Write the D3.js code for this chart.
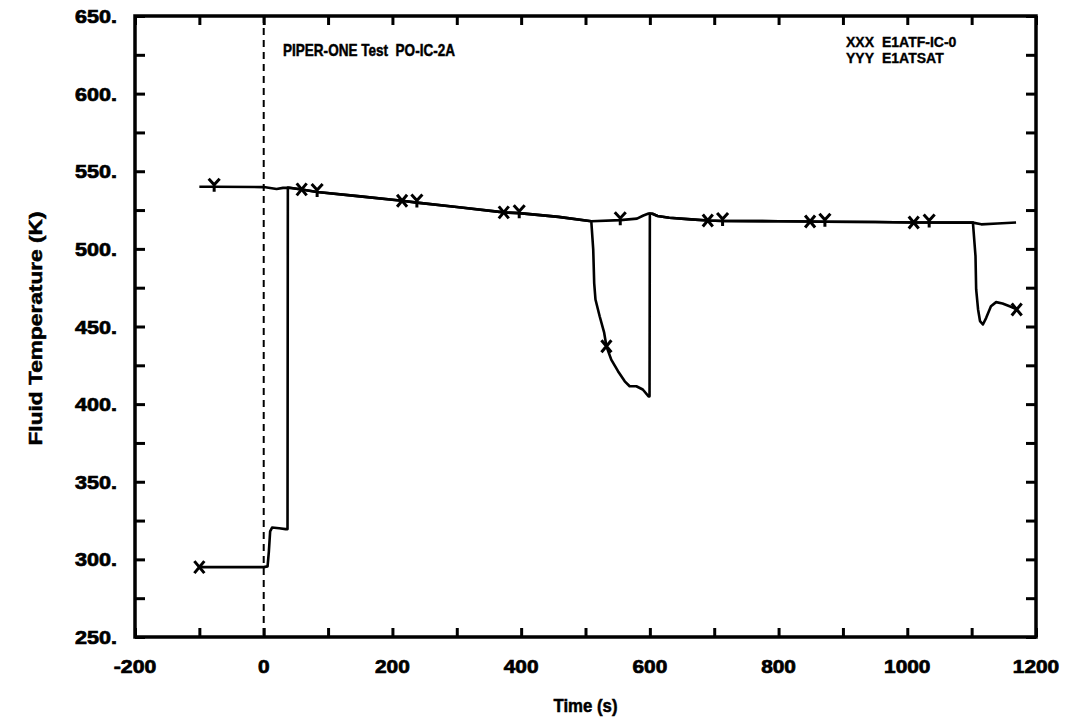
<!DOCTYPE html>
<html>
<head>
<meta charset="utf-8">
<script src="https://cdn.jsdelivr.net/npm/d3@7"></script>
<style>
  html, body { margin: 0; padding: 0; background: #fff; }
  svg { display: block; }
  text { font-family: "Liberation Sans", Arial, sans-serif; font-weight: bold; fill: #000; white-space: pre; }
</style>
</head>
<body>
<svg id="chart" width="1077" height="723"></svg>
<script>
// ---------------- data ----------------
const title = "PIPER-ONE Test  PO-IC-2A";
const xLabel = "Time (s)";
const yLabel = "Fluid Temperature (K)";
const seriesNames = ["E1ATF-IC-0", "E1ATSAT"];
const seriesSymbols = ["XXX", "YYY"];

const xTicks = [-200, 0, 200, 400, 600, 800, 1000, 1200];
const xTickLabels = ["-200", "0", "200", "400", "600", "800", "1000", "1200"];
const yTicks = [250, 300, 350, 400, 450, 500, 550, 600, 650];
const yTickLabels = ["250.", "300.", "350.", "400.", "450.", "500.", "550.", "600.", "650."];

// E1ATSAT (saturation temperature)
const satTime = [-100, -77, 0, 10, 20, 30, 40, 59, 83, 150, 215, 238, 300, 373, 397, 458, 509, 554, 580, 590, 598, 604, 612, 630, 664, 690, 713, 800, 849, 872, 950, 1010, 1034, 1102, 1115, 1140, 1169];
const satTemp = [540, 540, 539.8, 539.2, 538.6, 539.3, 539.4, 538.3, 536.6, 533.8, 531, 529.8, 527, 523.5, 523, 520.6, 517.8, 518.5, 519.5, 521.5, 522.8, 522.6, 521.2, 520, 519, 518.3, 518, 517.8, 517.6, 517.5, 517.3, 517, 517, 516.9, 515.8, 516.3, 517];

// E1ATF-IC-0 (fluid temperature)
const fluidTime = [-100, 0, 6, 8, 10, 13, 24, 34, 37, 37.5, 40, 59, 83, 150, 215, 238, 300, 373, 397, 458, 509, 512, 513.5, 515.5, 522, 529, 532.5, 540, 550.5, 561, 568.6, 579, 589, 598, 599.5, 600, 604, 612, 630, 664, 690, 713, 800, 849, 872, 950, 1010, 1034, 1102, 1106, 1107, 1110, 1113, 1117.5, 1122.6, 1130, 1138, 1148, 1161, 1170];
const fluidTemp = [295, 295, 295.5, 305, 318, 320.5, 320, 319.5, 319.5, 539.5, 539.4, 538.3, 536.6, 533.8, 531, 529.8, 527, 523.5, 523, 520.6, 517.8, 499.7, 478, 467.4, 456.6, 446, 437.3, 428.7, 421.2, 414.7, 411.5, 411.5, 409.4, 405, 405, 522.8, 522.6, 521.2, 520, 519, 518.3, 518, 517.8, 517.6, 517.5, 517.3, 517, 517, 516.9, 495.3, 474, 461, 453.5, 451.3, 455.6, 463, 465.7, 464.8, 462.7, 461];

// marker positions (symbols along the curves)
const fluidMarkTime = [-100, 59, 215, 373, 532.5, 690, 849, 1010, 1170];
const fluidMarkTemp = [295, 538.3, 531, 523.5, 437.3, 518.3, 517.6, 517, 461];
const satMarkTime = [-77, 83, 238, 397, 554, 713, 872, 1034];
const satMarkTemp = [540, 536.6, 529.8, 523, 518.5, 518, 517.5, 517];

const eventTime = 0; // dashed vertical reference line

// ---------------- layout ----------------
const svg = d3.select("#chart");
const L = 135, R = 1036, T = 16, B = 637;

const x = d3.scaleLinear().domain([-200, 1200]).range([L, R]);
const y = d3.scaleLinear().domain([250, 650]).range([B, T]);

const minorX = d3.range(-200, 1201, 100);
const minorY = d3.range(250, 651, 25);

// dashed line at t=0
svg.append("line")
  .attr("x1", x(eventTime)).attr("x2", x(eventTime))
  .attr("y1", y(650)).attr("y2", y(250))
  .attr("stroke", "#000").attr("stroke-width", 2)
  .attr("stroke-dasharray", "7,5");

// curves
const lineGen = d3.line().x(d => x(d[0])).y(d => y(d[1]));
svg.append("path")
  .datum(d3.zip(satTime, satTemp))
  .attr("d", lineGen)
  .attr("fill", "none").attr("stroke", "#000").attr("stroke-width", 2.6)
  .attr("stroke-linejoin", "round");
svg.append("path")
  .datum(d3.zip(fluidTime, fluidTemp))
  .attr("d", lineGen)
  .attr("fill", "none").attr("stroke", "#000").attr("stroke-width", 2.6)
  .attr("stroke-linejoin", "round");

// markers
const xMark = "M-5,-6L5,6M-5,6L5,-6";
const yMark = "M-5.5,-8L0,-2L5.5,-8M0,-2L0,5";
svg.append("g").selectAll("path")
  .data(d3.zip(fluidMarkTime, fluidMarkTemp))
  .join("path")
  .attr("transform", d => `translate(${x(d[0])},${y(d[1])})`)
  .attr("d", xMark)
  .attr("fill", "none").attr("stroke", "#000").attr("stroke-width", 3);
svg.append("g").selectAll("path")
  .data(d3.zip(satMarkTime, satMarkTemp))
  .join("path")
  .attr("transform", d => `translate(${x(d[0])},${y(d[1])})`)
  .attr("d", yMark)
  .attr("fill", "none").attr("stroke", "#000").attr("stroke-width", 3);

// axes: ticks inward on all four sides
const axisBottom = d3.axisBottom(x).tickValues(minorX).tickSize(-9).tickFormat("");
const axisTop = d3.axisTop(x).tickValues(minorX).tickSize(-9).tickFormat("");
const axisLeft = d3.axisLeft(y).tickValues(minorY).tickSize(-10).tickFormat("");
const axisRight = d3.axisRight(y).tickValues(minorY).tickSize(-10).tickFormat("");

function styleAxis(g) {
  g.select(".domain").remove();
  g.selectAll(".tick line").attr("stroke", "#000").attr("stroke-width", 3);
}
svg.append("g").attr("transform", `translate(0,${B})`).call(axisBottom).call(styleAxis);
svg.append("g").attr("transform", `translate(0,${T})`).call(axisTop).call(styleAxis);
svg.append("g").attr("transform", `translate(${L},0)`).call(axisLeft).call(styleAxis);
svg.append("g").attr("transform", `translate(${R},0)`).call(axisRight).call(styleAxis);

// frame
svg.append("rect")
  .attr("x", L).attr("y", T).attr("width", R - L).attr("height", B - T)
  .attr("fill", "none").attr("stroke", "#000").attr("stroke-width", 3.5);

// tick labels (heavy bold)
svg.append("g").selectAll("text")
  .data(d3.zip(xTicks, xTickLabels))
  .join("text")
  .attr("x", d => x(d[0]))
  .attr("y", 673)
  .attr("text-anchor", "middle")
  .attr("font-size", 18)
  .attr("textLength", d => d[1].length * 11.6 - (d[1][0] === "-" ? 4 : 0))
  .attr("lengthAdjust", "spacingAndGlyphs")
  .attr("stroke", "#000").attr("stroke-width", 0.7)
  .text(d => d[1]);
svg.append("g").selectAll("text")
  .data(d3.zip(yTicks, yTickLabels))
  .join("text")
  .attr("x", 117)
  .attr("y", d => y(d[0]) + 7)
  .attr("text-anchor", "end")
  .attr("font-size", 18)
  .attr("textLength", 42)
  .attr("lengthAdjust", "spacingAndGlyphs")
  .attr("stroke", "#000").attr("stroke-width", 0.7)
  .text(d => d[1]);

// axis titles
svg.append("text")
  .attr("x", (L + R) / 2).attr("y", 712)
  .attr("text-anchor", "middle").attr("font-size", 18)
  .attr("textLength", 64).attr("lengthAdjust", "spacingAndGlyphs")
  .attr("stroke", "#000").attr("stroke-width", 0.5)
  .text(xLabel);
svg.append("text")
  .attr("transform", `translate(42,${(T + B) / 2 + 2}) rotate(-90)`)
  .attr("text-anchor", "middle").attr("font-size", 18)
  .attr("textLength", 234).attr("lengthAdjust", "spacingAndGlyphs")
  .attr("stroke", "#000").attr("stroke-width", 0.5)
  .text(yLabel);

// title
svg.append("text")
  .attr("x", 283).attr("y", 56)
  .attr("font-size", 17)
  .attr("textLength", 172).attr("lengthAdjust", "spacingAndGlyphs")
  .attr("stroke", "#000").attr("stroke-width", 0.5)
  .text(title);

// legend
const leg = svg.append("g");
seriesNames.forEach((name, i) => {
  leg.append("text").attr("x", 846).attr("y", 47 + i * 16).attr("font-size", 14)
    .attr("stroke", "#000").attr("stroke-width", 0.35).text(seriesSymbols[i]);
  leg.append("text").attr("x", 882).attr("y", 47 + i * 16).attr("font-size", 14)
    .attr("stroke", "#000").attr("stroke-width", 0.35).text(name);
});
</script>
</body>
</html>
